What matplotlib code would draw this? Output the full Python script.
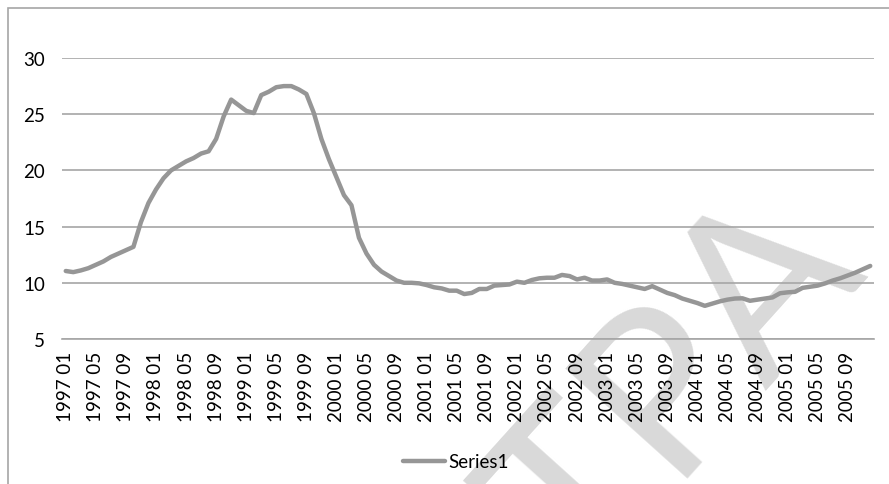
import matplotlib
matplotlib.use("Agg")
import matplotlib.pyplot as plt
from matplotlib.patches import Rectangle

plt.rcParams['font.family'] = ['Lato', 'DejaVu Sans']

# monthly series, 1997 01 .. 2005 12
years = list(range(1997, 2006))
months = [f"{y} {m:02d}" for y in years for m in range(1, 13)]

values = [
    11.05, 10.95, 11.1, 11.3, 11.6, 11.9, 12.3, 12.6, 12.9, 13.2, 15.4, 17.1,   # 1997
    18.3, 19.3, 20.0, 20.4, 20.8, 21.1, 21.5, 21.7, 22.8, 24.8, 26.3, 25.8,      # 1998
    25.3, 25.1, 26.7, 27.0, 27.4, 27.5, 27.5, 27.2, 26.8, 25.1, 22.8, 21.0,      # 1999
    19.4, 17.8, 16.9, 14.0, 12.6, 11.6, 11.0, 10.6, 10.2, 10.0, 10.0, 9.95,      # 2000
    9.8, 9.6, 9.5, 9.3, 9.3, 9.0, 9.1, 9.45, 9.45, 9.75, 9.8, 9.85,              # 2001
    10.1, 10.0, 10.25, 10.4, 10.45, 10.45, 10.7, 10.6, 10.3, 10.45, 10.2, 10.2,  # 2002
    10.3, 10.0, 9.9, 9.75, 9.6, 9.45, 9.7, 9.4, 9.1, 8.9, 8.6, 8.4,              # 2003
    8.2, 7.95, 8.15, 8.35, 8.5, 8.6, 8.62, 8.4, 8.5, 8.6, 8.7, 9.07,             # 2004
    9.15, 9.2, 9.55, 9.65, 9.75, 9.95, 10.2, 10.4, 10.65, 10.9, 11.2, 11.5,      # 2005
]

yticks = [5, 10, 15, 20, 25, 30]

W, H = 889, 485
fig = plt.figure(figsize=(W / 100, H / 100), dpi=100)

# chart area frame (runs off the right and bottom edge)
fig.patches.append(Rectangle((8 / W, -0.1), 1.2, 1.1 - 9 / H, transform=fig.transFigure,
                             fill=False, edgecolor='#a6a6a6', linewidth=1.2, zorder=0))

# watermark
fig.text(0.762, 0.20, 'TPA', fontsize=165, color='#d9d9d9', rotation=48,
         ha='center', va='center', zorder=-1)

ax = fig.add_axes([62 / W, 1 - 340 / H, (874 - 62) / W, (340 - 59) / H])
ax.patch.set_alpha(0)

x = list(range(len(values)))
ax.plot(x, values, color='#969696', linewidth=3.2, solid_joinstyle='round',
        solid_capstyle='round', label='Series1', zorder=3)

ax.set_xlim(-0.5, len(values) - 0.5)
ax.set_ylim(5, 30)
ax.set_yticks(yticks)
ax.set_yticklabels([str(v) for v in yticks])
ax.set_xticks(x[::4])
ax.set_xticklabels(months[::4], rotation=90)

ax.grid(axis='y', color='#a6a6a6', linewidth=1.2, zorder=1)
ax.set_axisbelow(True)
for s in ['top', 'right', 'left']:
    ax.spines[s].set_visible(False)
ax.spines['bottom'].set_color('#a6a6a6')
ax.spines['bottom'].set_linewidth(1.2)
ax.tick_params(axis='both', length=0, labelsize=13.5, colors='#000000')
ax.tick_params(axis='y', pad=12)
ax.tick_params(axis='x', pad=8.5)

leg = fig.legend(loc='center', bbox_to_anchor=(456 / W, 1 - 463 / H), frameon=False,
                 fontsize=13.5, handlelength=2.25, handletextpad=0.15)

fig.savefig('out.png', dpi=100)
